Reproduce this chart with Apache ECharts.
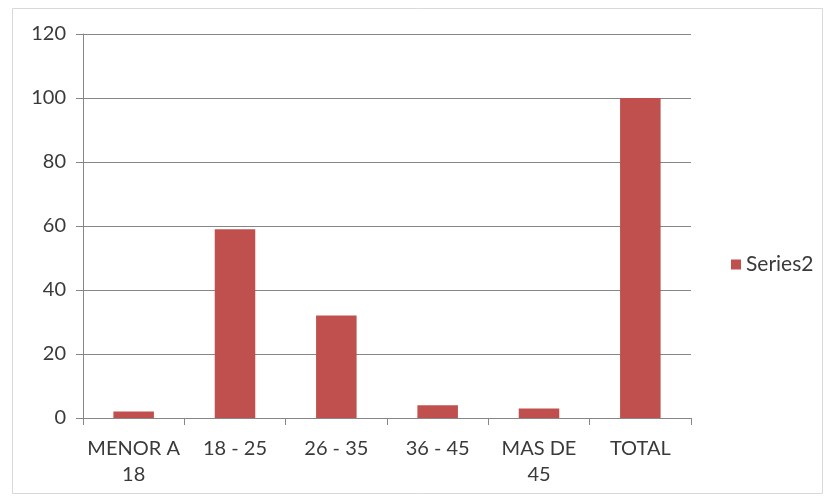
<!DOCTYPE html>
<html>
<head>
<meta charset="utf-8">
<script src="https://cdn.jsdelivr.net/npm/echarts@6/dist/echarts.min.js"></script>
<style>
  html, body { margin: 0; padding: 0; background: #ffffff; }
  #chart { width: 827px; height: 499px; }
</style>
</head>
<body>
<div id="chart"></div>
<script>
// Age groups and their values
const categories = ['MENOR A\n18', '18 - 25', '26 - 35', '36 - 45', 'MAS DE\n45', 'TOTAL'];
const series2 = [2, 59, 32, 4, 3, 100];
const seriesName = 'Series2';
const yTicks = { min: 0, max: 120, interval: 20 };

const textColor = '#3a3a3a';
const lineColor = '#868686';
const fontFamily = 'Lato, "Open Sans", sans-serif';

const chart = echarts.init(document.getElementById('chart'), null, { renderer: 'canvas' });

chart.setOption({
  backgroundColor: '#ffffff',
  animation: false,
  graphic: [{
    type: 'rect',
    shape: { x: 12.5, y: 8.5, width: 810, height: 485 },
    style: { fill: 'none', stroke: '#d9d9d9', lineWidth: 1 },
    silent: true
  }],
  grid: { left: 83, right: 136, top: 34, bottom: 81, containLabel: false },
  legend: {
    data: [seriesName],
    orient: 'vertical',
    left: 726,
    top: 249,
    itemWidth: 10,
    itemHeight: 10,
    itemGap: 6,
    icon: 'rect',
    textStyle: { color: textColor, fontSize: 21, fontFamily: fontFamily }
  },
  xAxis: {
    type: 'category',
    data: categories,
    boundaryGap: true,
    axisLine: { show: true, lineStyle: { color: lineColor, width: 1 } },
    axisTick: { show: true, length: 7, alignWithLabel: false, lineStyle: { color: lineColor } },
    axisLabel: {
      color: textColor, fontSize: 20, fontFamily: fontFamily,
      margin: 18, lineHeight: 26, interval: 0
    },
    splitLine: { show: false }
  },
  yAxis: {
    type: 'value',
    min: yTicks.min,
    max: yTicks.max,
    interval: yTicks.interval,
    axisLine: { show: true, lineStyle: { color: lineColor, width: 1 } },
    axisTick: { show: true, length: 7, lineStyle: { color: lineColor } },
    axisLabel: { color: textColor, fontSize: 20, fontFamily: fontFamily, margin: 17 },
    splitLine: { show: true, lineStyle: { color: lineColor, width: 1 } }
  },
  series: [{
    name: seriesName,
    type: 'bar',
    data: series2,
    barCategoryGap: '60%',
    itemStyle: { color: '#C0504D' }
  }]
});
</script>
</body>
</html>
